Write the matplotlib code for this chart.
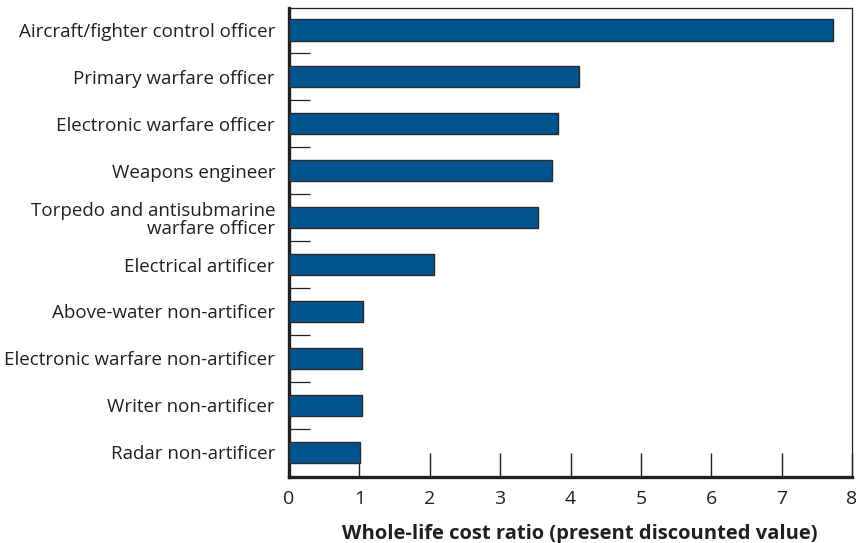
import matplotlib
matplotlib.use("Agg")
import matplotlib.pyplot as plt
import numpy as np

categories = [
    "Aircraft/fighter control officer",
    "Primary warfare officer",
    "Electronic warfare officer",
    "Weapons engineer",
    "Torpedo and antisubmarine\nwarfare officer",
    "Electrical artificer",
    "Above-water non-artificer",
    "Electronic warfare non-artificer",
    "Writer non-artificer",
    "Radar non-artificer",
]
values = [7.73, 4.12, 3.82, 3.74, 3.54, 2.06, 1.05, 1.04, 1.04, 1.01]
xticks = [0, 1, 2, 3, 4, 5, 6, 7, 8]
xlabel = "Whole-life cost ratio (present discounted value)"

plt.rcParams['font.family'] = ['Open Sans', 'DejaVu Sans']

fig = plt.figure(figsize=(8.62, 5.43), dpi=100)
ax = fig.add_axes([289/862, 1-477/543, (852-289)/862, (477-8)/543])

y = np.arange(len(categories))
ax.barh(y, values, height=0.45, color='#02548f', edgecolor='#2b2b2b', linewidth=1.0, zorder=3)
ax.set_axisbelow(True)

ax.set_xlim(0, 8)
ax.set_ylim(len(categories) - 0.47, -0.47)

ax.set_yticks(y)
ax.set_yticklabels(categories, fontsize=13.5, color='#231f20', linespacing=1.0)
ax.set_yticks(np.arange(len(categories) - 1) + 0.5, minor=True)
ax.tick_params(axis='y', which='major', length=0, pad=10)
ax.tick_params(axis='y', which='minor', direction='in', length=15, width=0.9, color='#231f20')

ax.set_xticks(xticks)
ax.set_xticklabels([str(t) for t in xticks], fontsize=14, color='#231f20')
ax.tick_params(axis='x', which='major', direction='in', length=17, width=1.0, color='#231f20', pad=9)

ax.set_xlabel(xlabel, fontsize=14.5, fontweight='bold', color='#231f20', labelpad=12)
ax.xaxis.label.set_x((580 - 289) / (852 - 289))

for s in ['left', 'bottom']:
    ax.spines[s].set_linewidth(2.4)
    ax.spines[s].set_color('#231f20')
for s in ['top', 'right']:
    ax.spines[s].set_linewidth(0.9)
    ax.spines[s].set_color('#231f20')

fig.savefig('out.png', dpi=100)
